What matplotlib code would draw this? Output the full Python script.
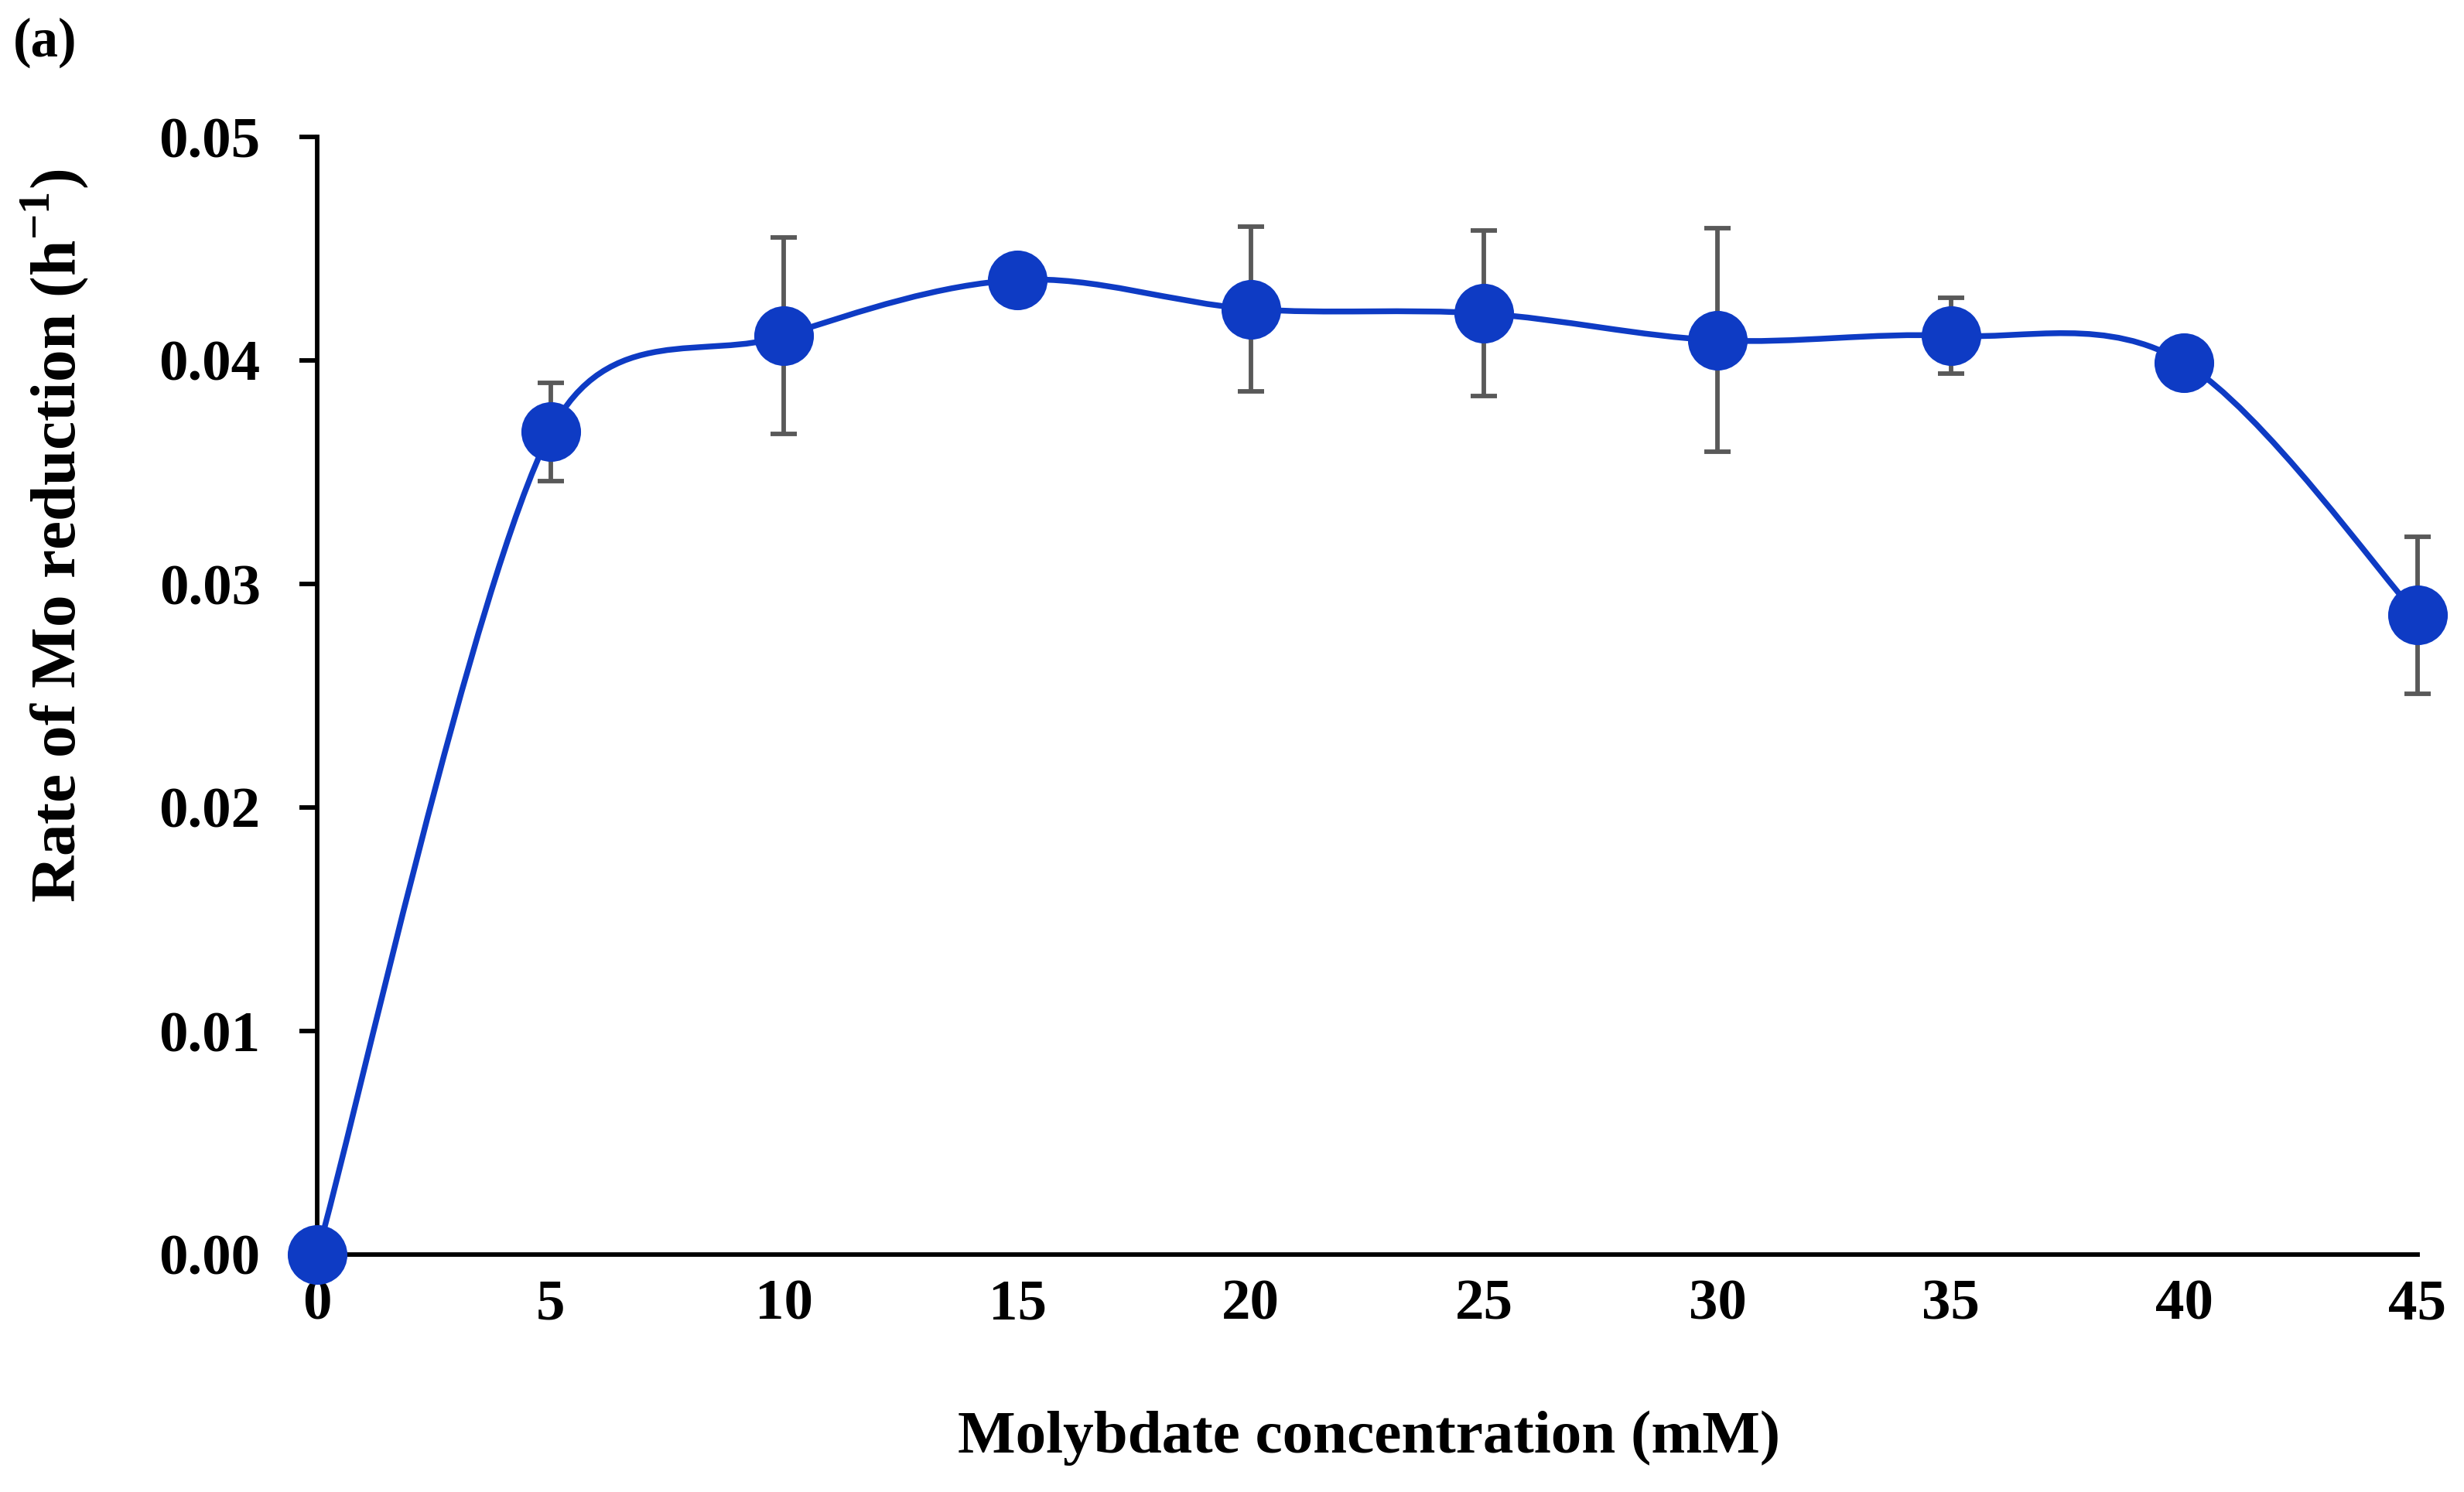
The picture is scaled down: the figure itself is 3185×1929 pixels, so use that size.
import numpy as np
import matplotlib
matplotlib.use("Agg")
import matplotlib.pyplot as plt
from matplotlib.path import Path
from matplotlib.patches import PathPatch

conc = [0, 5, 10, 15, 20, 25, 30, 35, 40, 45]
rate = [0.0, 0.0368, 0.0411, 0.0436, 0.0423, 0.0421, 0.0409, 0.0411, 0.0399, 0.0286]
err = [0.0, 0.0022, 0.0044, 0.0004, 0.0037, 0.0037, 0.0050, 0.0017, 0.0010, 0.0035]
xticks = [0, 5, 10, 15, 20, 25, 30, 35, 40, 45]
yticks = [0.00, 0.01, 0.02, 0.03, 0.04, 0.05]

plt.rcParams['font.family'] = ['Liberation Serif', 'DejaVu Serif']
plt.rcParams['mathtext.fontset'] = 'custom'
plt.rcParams['mathtext.rm'] = 'Liberation Serif'
plt.rcParams['mathtext.bf'] = 'Liberation Serif:bold'

W, H, DPI = 3186, 1929, 300
fig = plt.figure(figsize=(W / DPI, H / DPI), dpi=DPI)
ax = fig.add_axes([410 / W, 1 - 1622 / H, (3125 - 410) / W, (1622 - 177) / H])

blue = '#0e3bc4'
grey = '#595959'

ax.set_xlim(0, 45)
ax.set_ylim(0, 0.05)

# Excel-style smoothed line: Bezier through data points, tension 1/6,
# control arm capped at half the segment length (computed in screen space)
bbox = ax.get_position()
sx = bbox.width * W / 45.0
sy = bbox.height * H / 0.05
P = np.column_stack([np.array(conc, float) * sx, np.array(rate, float) * sy])
n = len(P)
verts = [tuple(P[0])]
codes = [Path.MOVETO]
f = 1.0 / 6.0
for i in range(n - 1):
    p0 = P[max(i - 1, 0)]
    p1 = P[i]
    p2 = P[i + 1]
    p3 = P[min(i + 2, n - 1)]
    d12 = np.linalg.norm(p2 - p1)
    t1 = p2 - p0
    t2 = p3 - p1
    a1 = f * np.linalg.norm(t1)
    a2 = f * np.linalg.norm(t2)
    k1 = f if a1 <= d12 / 2 else d12 / (2 * np.linalg.norm(t1))
    k2 = f if a2 <= d12 / 2 else d12 / (2 * np.linalg.norm(t2))
    c1 = p1 + t1 * k1
    c2 = p2 - t2 * k2
    verts += [tuple(c1), tuple(c2), tuple(p2)]
    codes += [Path.CURVE4, Path.CURVE4, Path.CURVE4]
verts = [(vx / sx, vy / sy) for vx, vy in verts]
ax.add_patch(PathPatch(Path(verts, codes), facecolor='none', edgecolor=blue,
                       lw=1.8, zorder=2, clip_on=False))

ax.errorbar(conc, rate, yerr=err, fmt='none', ecolor=grey, elinewidth=1.4,
            capsize=4.0, capthick=1.4, zorder=3, clip_on=False)
ax.plot(conc, rate, 'o', color=blue, ms=17.5, zorder=4, clip_on=False)

ax.set_xticks(xticks)
ax.set_xticklabels([str(v) for v in xticks])
ax.set_yticks(yticks)
ax.set_yticklabels([f"{v:.2f}" for v in yticks])
for s in ['top', 'right']:
    ax.spines[s].set_visible(False)
for s in ['left', 'bottom']:
    ax.spines[s].set_linewidth(1.4)
    ax.spines[s].set_color('black')
ax.tick_params(axis='y', direction='out', length=5.6, width=1.4, pad=12)
ax.tick_params(axis='x', length=0, pad=7.5)
for lab in ax.get_xticklabels() + ax.get_yticklabels():
    lab.set_fontsize(18)
    lab.set_fontweight('bold')

fig.text(1770 / W, 1 - 1859 / H, 'Molybdate concentration (mM)', ha='center', va='center',
         fontsize=19, fontweight='bold')
fig.text(71 / W, 1 - 693 / H, r'Rate of Mo reduction (h$^{\mathbf{-1}}$)', ha='center', va='center',
         rotation=90, fontsize=20, fontweight='bold')
fig.text(17 / W, 1 - 55 / H, '(a)', ha='left', va='center', fontsize=17, fontweight='bold')

fig.savefig('out.png', dpi=DPI)
